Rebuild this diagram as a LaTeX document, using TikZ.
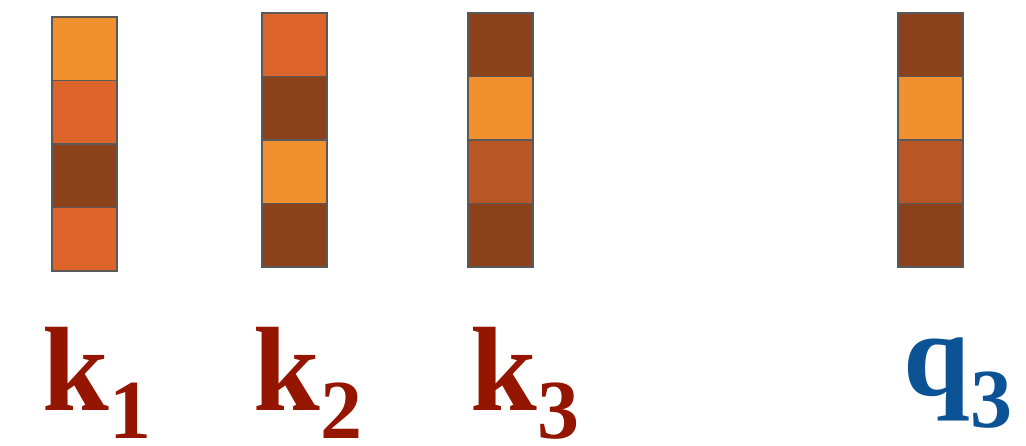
\documentclass[tikz,border=0pt]{standalone}
\usepackage{fontspec}
\setmainfont{Liberation Serif}
\definecolor{lightorg}{HTML}{F0902F}
\definecolor{midorg}{HTML}{DD652B}
\definecolor{rustorg}{HTML}{B95626}
\definecolor{darkorg}{HTML}{8B4119}
\definecolor{keyred}{HTML}{941500}
\definecolor{queryblue}{HTML}{0B5394}
\begin{document}
\begin{tikzpicture}[x=0.5pt,y=-0.5pt,
  cell/.style={draw=black!65,line width=0.8pt},
  lbl/.style={inner sep=0pt,anchor=base west,font=\bfseries\fontsize{60}{60}\selectfont},
  sublbl/.style={inner sep=0pt,anchor=base west,font=\bfseries\fontsize{42}{42}\selectfont}]
  \useasboundingbox (0,0) rectangle (1026,445);
  % vectors: left edge, top edge, cell colours from top to bottom
  \foreach \x/\t/\ca/\cb/\cc/\cd in {52/17/lightorg/midorg/darkorg/midorg,
      262/13/midorg/darkorg/lightorg/darkorg,
      468/13/darkorg/lightorg/rustorg/darkorg,
      898/13/darkorg/lightorg/rustorg/darkorg} {
    \draw[cell,fill=\ca] (\x,\t) rectangle ++(65,63.5);
    \draw[cell,fill=\cb] (\x,\t+63.5) rectangle ++(65,63.5);
    \draw[cell,fill=\cc] (\x,\t+127) rectangle ++(65,63.5);
    \draw[cell,fill=\cd] (\x,\t+190.5) rectangle ++(65,63.5);
  }
  % labels
  \node[lbl,text=keyred] (k1) at (42,410) {k};
  \node[sublbl,text=keyred] (k1s) at ([yshift=-14pt]k1.base east) {1};
  \node[lbl,text=keyred] (k2) at (253,410) {k};
  \node[sublbl,text=keyred] (k2s) at ([yshift=-14pt]k2.base east) {2};
  \node[lbl,text=keyred] (k3) at (470,410) {k};
  \node[sublbl,text=keyred] (k3s) at ([yshift=-14pt]k3.base east) {3};
  \node[lbl,text=queryblue] (q3) at (903,395) {q};
  \node[sublbl,text=queryblue] (q3s) at ([yshift=-16pt]q3.base east) {3};
\end{tikzpicture}
\end{document}
